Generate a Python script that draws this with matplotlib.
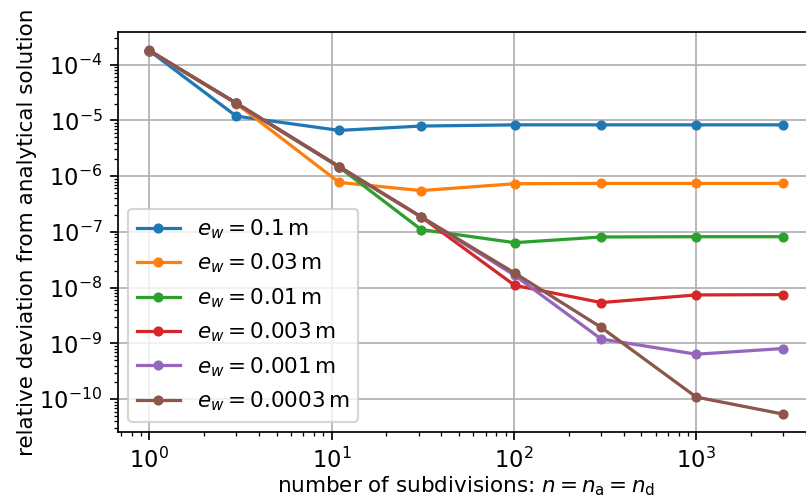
import matplotlib
matplotlib.use("Agg")
import matplotlib.pyplot as plt

n_values = [1, 3, 11, 31, 101, 301, 1001, 3001]
labels = [r"$e_w = 0.1\,\mathrm{m}$", r"$e_w = 0.03\,\mathrm{m}$", r"$e_w = 0.01\,\mathrm{m}$",
          r"$e_w = 0.003\,\mathrm{m}$", r"$e_w = 0.001\,\mathrm{m}$", r"$e_w = 0.0003\,\mathrm{m}$"]

dev_01 = [1.77e-4, 1.19e-5, 6.6e-6, 7.9e-6, 8.3e-6, 8.3e-6, 8.3e-6, 8.3e-6]
dev_003 = [1.78e-4, 2.0e-5, 7.7e-7, 5.5e-7, 7.3e-7, 7.4e-7, 7.4e-7, 7.4e-7]
dev_001 = [1.78e-4, 2.02e-5, 1.45e-6, 1.1e-7, 6.4e-8, 8.1e-8, 8.2e-8, 8.2e-8]
dev_0003 = [1.78e-4, 2.03e-5, 1.47e-6, 1.85e-7, 1.1e-8, 5.4e-9, 7.4e-9, 7.5e-9]
dev_0001 = [1.78e-4, 2.03e-5, 1.48e-6, 1.86e-7, 1.66e-8, 1.2e-9, 6.4e-10, 8.1e-10]
dev_00003 = [1.79e-4, 2.04e-5, 1.48e-6, 1.86e-7, 1.83e-8, 1.94e-9, 1.09e-10, 5.4e-11]

series = [dev_01, dev_003, dev_001, dev_0003, dev_0001, dev_00003]

DPI = 155
fig = plt.figure(figsize=(806/DPI, 499/DPI), dpi=DPI)
ax = fig.add_axes([0.1459, 0.1337, 0.8651, 0.8016])
for vals, lab in zip(series, labels):
    ax.plot(n_values, vals, marker='o', markersize=3.7, linewidth=1.5, label=lab)
ax.set_xscale('log')
ax.set_yscale('log')
ax.grid(True)
ax.tick_params(axis='both', which='major', labelsize=10.5)
ax.set_xlabel(r"number of subdivisions: $n = n_\mathrm{a} = n_\mathrm{d}$", labelpad=1)
ax.set_ylabel("relative deviation from analytical solution", labelpad=1)
ax.legend(loc='lower left')
fig.savefig("out.png", dpi=DPI)
